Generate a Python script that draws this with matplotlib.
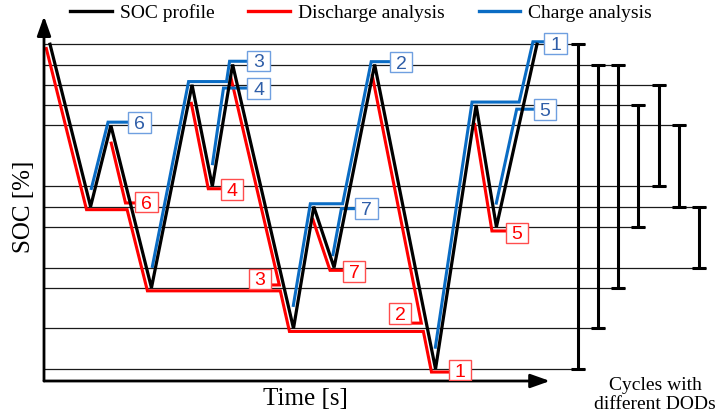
import matplotlib
matplotlib.use("Agg")
import matplotlib.pyplot as plt
import numpy as np
from matplotlib.patches import Rectangle
from matplotlib.lines import Line2D

# ---------------- data ----------------
# SOC profile (time in arbitrary units, SOC in %)
profile_t = [0, 2, 3, 5, 7, 8, 9, 12, 13, 14, 16, 19, 21, 22, 24]
profile_soc = [90, 50, 70, 30, 80, 55, 85, 20, 50, 35, 85, 10, 75, 45, 90]

# cycles found by the analysis (min / max SOC)
cycle_ids = [1, 2, 3, 4, 5, 6, 7]
cycle_min = [10, 20, 30, 55, 45, 50, 35]
cycle_max = [90, 85, 85, 80, 75, 70, 50]

# discharge analysis paths
dis1_t = [-0.2, 1.8, 3.8, 4.8, 11.35, 11.8, 18.4, 18.8, 19.7]
dis1_soc = [89.3, 49.25, 49.25, 29.25, 29.25, 19.25, 19.25, 9.25, 9.25]
dis2_t = [15.87, 18.3, 17.8]
dis2_soc = [82.6, 21.3, 21.3]
dis3_t = [8.9, 11.3, 10.9]
dis3_soc = [82.1, 30.7, 30.7]
dis4_t = [6.95, 7.8, 8.45]
dis4_soc = [75.8, 54.4, 54.4]
dis5_t = [20.92, 21.78, 22.5]
dis5_soc = [70.6, 44.0, 44.0]
dis6_t = [3.0, 3.72, 4.25]
dis6_soc = [66.0, 50.9, 50.9]
dis7_t = [12.93, 13.8, 14.45]
dis7_soc = [47.2, 34.3, 34.3]

# charge analysis paths
chg1_t = [18.98, 20.8, 23.12, 23.8, 24.4]
chg1_soc = [15.0, 75.75, 75.75, 90.6, 90.6]
chg2_t = [11.98, 12.83, 14.42, 15.83, 16.78]
chg2_soc = [25.3, 50.7, 50.7, 85.7, 85.7]
chg3_t = [5.03, 6.83, 8.7, 8.85, 9.72]
chg3_soc = [34.9, 80.8, 80.8, 85.8, 85.8]
chg4_t = [8.0, 8.55, 9.72]
chg4_soc = [60.2, 79.2, 79.2]
chg5_t = [21.98, 23.0, 23.85]
chg5_soc = [50.5, 74.0, 74.0]
chg6_t = [2.02, 2.86, 3.85]
chg6_soc = [54.1, 70.8, 70.8]
chg7_t = [13.93, 14.36, 15.05]
chg7_soc = [37.8, 49.5, 49.5]

# cycle number labels
dis_label_text = ["1", "2", "3", "4", "5", "6", "7"]
dis_label_t = [20.21, 17.25, 10.35, 8.97, 23.02, 4.76, 14.98]
dis_label_soc = [9.75, 23.7, 32.2, 54.3, 43.5, 51.1, 34.0]
chg_label_text = ["1", "2", "3", "4", "5", "6", "7"]
chg_label_t = [24.91, 17.3, 10.28, 10.28, 24.4, 4.41, 15.6]
chg_label_soc = [90.2, 85.6, 85.9, 79.1, 74.0, 70.8, 49.5]

legend_labels = ["SOC profile", "Discharge analysis", "Charge analysis"]

# ---------------- styling ----------------
SERIF = "Liberation Serif"
SANS = "Liberation Sans"
RED = "#ff0000"
BLUE = "#0a6cc4"
BLUE_TXT = "#2f5ea8"
BLUE_EDGE = "#6f9fe0"
RED_EDGE = "#ff4d4d"

W, H = 719, 418
fig = plt.figure(figsize=(W / 100, H / 100), dpi=100)
ax = fig.add_axes([44 / W, 37 / H, 1 - 44 / W, 1 - 37 / H])
x0, x1 = -0.296, 32.97
y0, y1 = 7.044, 100.89
ax.set_xlim(x0, x1)
ax.set_ylim(y0, y1)
ax.axis("off")

# DOD bars sorted by depth
dod = np.array(cycle_max) - np.array(cycle_min)
order = np.argsort(-dod, kind="stable")
bar_t = np.empty(len(cycle_ids))
bar_t[order] = 26 + np.arange(len(cycle_ids))
cap_half = 0.345

ax.errorbar(bar_t, (np.array(cycle_max) + np.array(cycle_min)) / 2,
            yerr=dod / 2, fmt="none", ecolor="k", elinewidth=2.2,
            capsize=5, capthick=2.2, zorder=2, clip_on=False)

# horizontal level lines, each reaching its DOD bar
levels = sorted(set(cycle_min) | set(cycle_max))
level_end = []
for lv in levels:
    ends = [bar_t[i] for i in range(len(cycle_ids))
            if cycle_min[i] == lv or cycle_max[i] == lv]
    level_end.append(max(ends) + cap_half)
ax.hlines(levels, xmin=x0, xmax=level_end, colors="#1a1a1a", lw=0.9, zorder=1)

# analysis paths
lw = 2.2
for tt, ss in [(dis1_t, dis1_soc), (dis2_t, dis2_soc), (dis3_t, dis3_soc),
               (dis4_t, dis4_soc), (dis5_t, dis5_soc), (dis6_t, dis6_soc),
               (dis7_t, dis7_soc)]:
    ax.plot(tt, ss, color=RED, lw=lw, zorder=3, solid_joinstyle="miter",
            solid_capstyle="butt")
for tt, ss in [(chg1_t, chg1_soc), (chg2_t, chg2_soc), (chg3_t, chg3_soc),
               (chg4_t, chg4_soc), (chg5_t, chg5_soc), (chg6_t, chg6_soc),
               (chg7_t, chg7_soc)]:
    ax.plot(tt, ss, color=BLUE, lw=lw, zorder=3, solid_joinstyle="miter",
            solid_capstyle="butt")

# SOC profile
ax.plot(profile_t, profile_soc, color="k", lw=2.3, zorder=4,
        solid_joinstyle="miter")

# label boxes
bw, bh = 1.1, 5.1
for txt, tt, ss in zip(dis_label_text, dis_label_t, dis_label_soc):
    ax.add_patch(Rectangle((tt - bw / 2, ss - bh / 2), bw, bh, fc="white",
                           ec=RED_EDGE, lw=1.0, zorder=5))
    ax.text(tt, ss, txt, ha="center", va="center_baseline", color=RED,
            fontsize=14, family=SANS, zorder=6)
for txt, tt, ss in zip(chg_label_text, chg_label_t, chg_label_soc):
    ax.add_patch(Rectangle((tt - bw / 2, ss - bh / 2), bw, bh, fc="white",
                           ec=BLUE_EDGE, lw=1.0, zorder=5))
    ax.text(tt, ss, txt, ha="center", va="center_baseline", color=BLUE_TXT,
            fontsize=14, family=SANS, zorder=6)

# axis arrows
arrow = dict(arrowstyle="-|>,head_length=0.9,head_width=0.32", color="k",
             lw=2.0, shrinkA=0, shrinkB=0, mutation_scale=13)
ax.annotate("", xy=(24.64, y0), xytext=(x0, y0), arrowprops=arrow,
            annotation_clip=False)
ax.annotate("", xy=(x0, 96.9), xytext=(x0, y0), arrowprops=arrow,
            annotation_clip=False)

# axis titles and note
fig.text(24 / W, 1 - 207 / H, "SOC [%]", rotation=90, ha="center",
         va="center", fontsize=18, family=SERIF)
fig.text(305 / W, 1 - 399 / H, "Time [s]", ha="center", va="center",
         fontsize=18, family=SERIF)
fig.text(655 / W, 1 - 395 / H, "Cycles with\ndifferent DODs", ha="center",
         va="center", fontsize=14, family=SERIF, linespacing=1.2)

# legend
handles = [Line2D([], [], color="k", lw=2.4),
           Line2D([], [], color=RED, lw=2.4),
           Line2D([], [], color=BLUE, lw=2.4)]
fig.legend(handles, legend_labels, loc="center",
           bbox_to_anchor=(361 / W, 1 - 13 / H), ncol=3, frameon=False,
           prop={"family": SERIF, "size": 14}, handlelength=2.15,
           handletextpad=0.4, columnspacing=1.75, borderpad=0,
           borderaxespad=0)

fig.savefig("out.png", dpi=100)
